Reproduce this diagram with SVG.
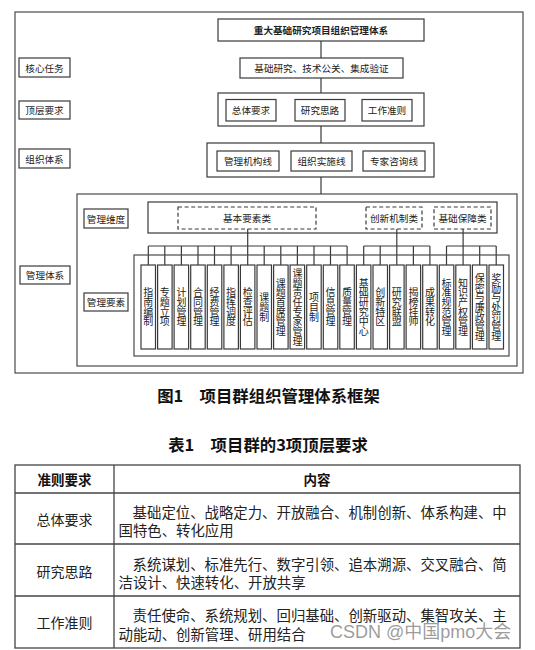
<svg xmlns="http://www.w3.org/2000/svg" width="535" height="650" viewBox="0 0 535 650">
<style>
.b{fill:#fff;stroke:#3a3a3a;stroke-width:1.2}
.f{fill:none;stroke:#4a4a4a;stroke-width:1.2}
.d{fill:none;stroke:#3a3a3a;stroke-width:1.2;stroke-dasharray:4 2.6}
.t{font-family:"Noto Sans CJK SC","Liberation Serif",sans-serif;font-size:9.6px;fill:#222;text-anchor:middle;dominant-baseline:central}
.tb{font-weight:bold}
.v{font-family:"Noto Sans CJK SC",sans-serif;font-size:10px;fill:#222;text-anchor:middle;dominant-baseline:central;writing-mode:vertical-rl;letter-spacing:-0.3px}
.c line,.c path{stroke:#3a3a3a;stroke-width:1.2;fill:none}
.cap{font-family:"Noto Sans CJK SC",sans-serif;font-size:16.4px;font-weight:bold;fill:#111;text-anchor:middle;dominant-baseline:central}
.tg{fill:none;stroke:#444;stroke-width:1.3}
.th{font-family:"Noto Sans CJK SC",serif;font-size:13.5px;font-weight:bold;fill:#111;text-anchor:middle;dominant-baseline:central}
.tl{font-family:"Noto Sans CJK SC",serif;font-size:14px;fill:#222;text-anchor:middle;dominant-baseline:central}
.tc{font-family:"Noto Sans CJK SC",serif;font-size:14.4px;fill:#222;dominant-baseline:central}
</style>
<rect width="535" height="650" fill="#fff"/>

<g id="frame"><rect class="f" x="15" y="12" width="508" height="361"/></g>
<g id="mgmt-frame"><rect class="f" x="77" y="194" width="440" height="172"/></g>

<g id="connectors" class="c">
<line x1="321" y1="41" x2="321" y2="58"/>
<line x1="321" y1="78" x2="321" y2="93"/>
<line x1="321" y1="126" x2="321" y2="143"/>
<line x1="321" y1="177" x2="321" y2="194"/>
<line x1="247.7" y1="229" x2="247.7" y2="246"/>
<line x1="148.3" y1="246" x2="347.1" y2="246"/>
<line x1="396.8" y1="229" x2="396.8" y2="246"/>
<line x1="363.7" y1="246" x2="429.9" y2="246"/>
<line x1="463.1" y1="229" x2="463.1" y2="246"/>
<line x1="446.5" y1="246" x2="496.2" y2="246"/>
<path d="M148.3 246V265M164.8 246V265M181.4 246V265M198 246V265M214.5 246V265M231.1 246V265M247.7 246V265M264.2 246V265M280.8 246V265M297.4 246V265M314 246V265M330.5 246V265M347.1 246V265"/>
<path d="M363.7 246V265M380.2 246V265M396.8 246V265M413.4 246V265M429.9 246V265"/>
<path d="M446.5 246V265M463.1 246V265M479.7 246V265M496.2 246V265"/>
</g>

<g id="lbl-core"><rect class="b" x="19" y="58" width="51" height="19"/><text class="t" x="44.5" y="67.5">核心任务</text></g>
<g id="lbl-top"><rect class="b" x="19" y="101" width="51" height="18"/><text class="t" x="44.5" y="110">顶层要求</text></g>
<g id="lbl-org"><rect class="b" x="19" y="149" width="51" height="19"/><text class="t" x="44.5" y="158.5">组织体系</text></g>
<g id="lbl-mgmt"><rect class="b" x="20" y="266" width="50" height="18"/><text class="t" x="45" y="275">管理体系</text></g>
<g id="lbl-dim"><rect class="b" x="84" y="209" width="44" height="19"/><text class="t" x="106" y="218.5">管理维度</text></g>
<g id="lbl-elem"><rect class="b" x="84" y="293" width="44" height="18"/><text class="t" x="106" y="302">管理要素</text></g>

<g id="title"><rect class="b" x="218" y="19" width="206" height="22"/><text class="t tb" x="321" y="30">重大基础研究项目组织管理体系</text></g>
<g id="core"><rect class="b" x="240" y="58" width="163" height="20"/><text class="t" x="321.5" y="68">基础研究、技术公关、集成验证</text></g>
<g id="top-req">
<rect class="b" x="218" y="93" width="206" height="33"/>
<rect class="b" x="226" y="99.5" width="50" height="21.5"/><text class="t" x="251" y="110">总体要求</text>
<rect class="b" x="295" y="99.5" width="50" height="21.5"/><text class="t" x="320" y="110">研究思路</text>
<rect class="b" x="362" y="99.5" width="50" height="21.5"/><text class="t" x="387" y="110">工作准则</text>
</g>
<g id="org">
<rect class="b" x="207" y="143" width="227" height="34"/>
<rect class="b" x="217" y="151" width="62" height="20"/><text class="t" x="248" y="161">管理机构线</text>
<rect class="b" x="291" y="151" width="61" height="20"/><text class="t" x="321.5" y="161">组织实施线</text>
<rect class="b" x="363" y="151" width="62" height="20"/><text class="t" x="394" y="161">专家咨询线</text>
</g>

<g id="dimension">
<rect class="b" x="148" y="202" width="349" height="31"/>
<rect class="d" x="178" y="207" width="138" height="22"/><text class="t" x="247" y="218">基本要素类</text>
<rect class="d" x="366" y="207" width="56" height="22"/><text class="t" x="394" y="218">创新机制类</text>
<rect class="d" x="434" y="207" width="57" height="22"/><text class="t" x="462.5" y="218">基础保障类</text>
</g>
<g id="connectors-2" class="c">
<line x1="247.7" y1="229" x2="247.7" y2="233"/>
<line x1="396.8" y1="229" x2="396.8" y2="233"/>
<line x1="463.1" y1="229" x2="463.1" y2="233"/>
</g>

<g id="elements">
<rect class="f" x="134" y="255" width="375" height="101"/>
<g id="e0"><rect class="b" x="141" y="265" width="14.5" height="84"/><text class="v" x="148.3" y="307">指南编制</text></g>
<g id="e1"><rect class="b" x="157.6" y="265" width="14.5" height="84"/><text class="v" x="164.8" y="307">专题立项</text></g>
<g id="e2"><rect class="b" x="174.1" y="265" width="14.5" height="84"/><text class="v" x="181.4" y="307">计划管理</text></g>
<g id="e3"><rect class="b" x="190.7" y="265" width="14.5" height="84"/><text class="v" x="198" y="307">合同管理</text></g>
<g id="e4"><rect class="b" x="207.3" y="265" width="14.5" height="84"/><text class="v" x="214.5" y="307">经费管理</text></g>
<g id="e5"><rect class="b" x="223.9" y="265" width="14.5" height="84"/><text class="v" x="231.1" y="307">指挥调度</text></g>
<g id="e6"><rect class="b" x="240.4" y="265" width="14.5" height="84"/><text class="v" x="247.7" y="307">检查评估</text></g>
<g id="e7"><rect class="b" x="257" y="265" width="14.5" height="84"/><text class="v" x="264.2" y="307">课题制</text></g>
<g id="e8"><rect class="b" x="273.6" y="265" width="14.5" height="84"/><text class="v" x="280.8" y="307">课题首席管理</text></g>
<g id="e9"><rect class="b" x="290.1" y="265" width="14.5" height="84"/><text class="v" x="297.4" y="307">课题责任专家管理</text></g>
<g id="e10"><rect class="b" x="306.7" y="265" width="14.5" height="84"/><text class="v" x="314" y="307">项目制</text></g>
<g id="e11"><rect class="b" x="323.3" y="265" width="14.5" height="84"/><text class="v" x="330.5" y="307">信息管理</text></g>
<g id="e12"><rect class="b" x="339.8" y="265" width="14.5" height="84"/><text class="v" x="347.1" y="307">质量管理</text></g>
<g id="e13"><rect class="b" x="356.4" y="265" width="14.5" height="84"/><text class="v" x="363.7" y="307">基础研究中心</text></g>
<g id="e14"><rect class="b" x="373" y="265" width="14.5" height="84"/><text class="v" x="380.2" y="307">创新特区</text></g>
<g id="e15"><rect class="b" x="389.6" y="265" width="14.5" height="84"/><text class="v" x="396.8" y="307">研究联盟</text></g>
<g id="e16"><rect class="b" x="406.1" y="265" width="14.5" height="84"/><text class="v" x="413.4" y="307">揭榜挂帅</text></g>
<g id="e17"><rect class="b" x="422.7" y="265" width="14.5" height="84"/><text class="v" x="429.9" y="307">成果转化</text></g>
<g id="e18"><rect class="b" x="439.3" y="265" width="14.5" height="84"/><text class="v" x="446.5" y="307">标准规范管理</text></g>
<g id="e19"><rect class="b" x="455.8" y="265" width="14.5" height="84"/><text class="v" x="463.1" y="307">知识产权管理</text></g>
<g id="e20"><rect class="b" x="472.4" y="265" width="14.5" height="84"/><text class="v" x="479.7" y="307">保密与廉政管理</text></g>
<g id="e21"><rect class="b" x="489" y="265" width="14.5" height="84"/><text class="v" x="496.2" y="307">奖励与处罚管理</text></g>
</g>

<text class="cap" x="268.5" y="395" xml:space="preserve">图1　项目群组织管理体系框架</text>
<text class="cap" x="268" y="444" xml:space="preserve">表1　项目群的3项顶层要求</text>

<g id="table">
<rect class="tg" x="15" y="465" width="505" height="183"/>
<line class="tg" x1="114" y1="465" x2="114" y2="648"/>
<line class="tg" x1="15" y1="493" x2="520" y2="493"/>
<line class="tg" x1="15" y1="544" x2="520" y2="544"/>
<line class="tg" x1="15" y1="596" x2="520" y2="596"/>
<text class="th" x="64.5" y="479">准则要求</text>
<text class="th" x="317" y="479">内容</text>
<text class="tl" x="64.5" y="519">总体要求</text>
<text class="tc"><tspan x="132.6" y="510.5">基础定位、战略定力、开放融合、机制创新、体系构建、中</tspan><tspan x="118.5" y="528.5">国特色、转化应用</tspan></text>
<text class="tl" x="64.5" y="570.5">研究思路</text>
<text class="tc"><tspan x="132.6" y="563">系统谋划、标准先行、数字引领、追本溯源、交叉融合、简</tspan><tspan x="118.5" y="580.5">洁设计、快速转化、开放共享</tspan></text>
<text class="tl" x="64.5" y="622">工作准则</text>
<text class="tc"><tspan x="132.6" y="614">责任使命、系统规划、回归基础、创新驱动、集智攻关、主</tspan><tspan x="118.5" y="632.5">动能动、创新管理、研用结合</tspan></text>
</g>
<text x="330" y="632" font-family="'Liberation Sans','Noto Sans CJK SC',sans-serif" font-size="18" fill="#8a8a8a" fill-opacity="0.85" dominant-baseline="central">CSDN @中国pmo大会</text>
</svg>
